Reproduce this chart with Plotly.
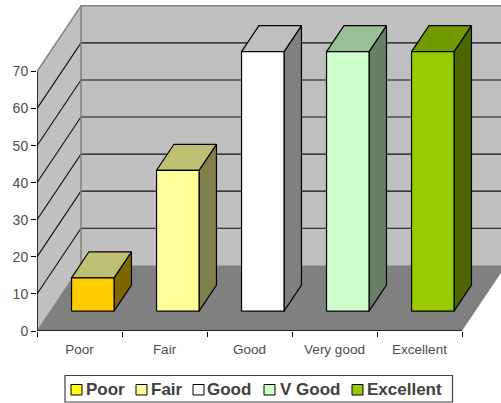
import plotly.graph_objects as go

# Data
categories = ["Poor", "Fair", "Good", "Very good", "Excellent"]
values = [9, 38, 70, 70, 70]
y_ticks = [0, 10, 20, 30, 40, 50, 60, 70]
legend_names = ["Poor", "Fair", "Good", "V Good", "Excellent"]
legend_colors = ["#FFFF00", "#FFFF99", "#FFFFFF", "#CCFFCC", "#99CC00"]
front_colors = ["#FFCC00", "#FFFF99", "#FFFFFF", "#CCFFCC", "#99CC00"]
top_colors = ["#BFBF73", "#BFBF73", "#BFBFBF", "#99BF99", "#739900"]
side_colors = ["#806600", "#80804D", "#808080", "#668066", "#4D6600"]

# Plot geometry (pixels)
W, H = 501, 403
L, B = 37, 331
PX_PER_CAT = 85.0
PX_PER_VAL = 3.707
DEPTH_DX, DEPTH_DY = 44.0, 65.7
BAR_W = 0.5
BAR_D0, BAR_D1 = 0.302, 0.698
N = len(categories)
Y_MAX = y_ticks[-1]


def proj(c, v, d):
    return c + d * DEPTH_DX / PX_PER_CAT, v + d * DEPTH_DY / PX_PER_VAL


def poly(points, fill, line=None, width=1):
    xs, ys = zip(*[proj(*p) for p in points])
    return go.Scatter(
        x=list(xs), y=list(ys), mode="lines" if line else "none",
        fill="toself" if fill else None, fillcolor=fill,
        line=dict(color=line or "rgba(0,0,0,0)", width=width),
        hoverinfo="skip", showlegend=False,
    )


fig = go.Figure()

# Walls and floor
fig.add_trace(poly([(0, 0, 1), (N, 0, 1), (N, Y_MAX, 1), (0, Y_MAX, 1), (0, 0, 1)], "#C0C0C0"))
fig.add_trace(poly([(0, 0, 0), (0, 0, 1), (0, Y_MAX, 1), (0, Y_MAX, 0), (0, 0, 0)], "#C0C0C0"))
fig.add_trace(poly([(0, 0, 0), (N, 0, 0), (N, 0, 1), (0, 0, 1), (0, 0, 0)], "#808080"))

# Gridlines
for t in y_ticks[1:-1]:
    fig.add_trace(poly([(0, t, 0), (0, t, 1), (N, t, 1)], None, "#111111", 1.1))

# Wall borders
fig.add_trace(poly([(0, 0, 1), (0, Y_MAX, 1), (N, Y_MAX, 1)], None, "#808080", 1.5))
fig.add_trace(poly([(0, Y_MAX, 0), (0, Y_MAX, 1)], None, "#808080", 1.5))
fig.add_trace(poly([(0, 0, 0), (0, 0, 1)], None, "#808080"))

# Axis lines
fig.add_trace(poly([(0, Y_MAX, 0), (0, 0, 0), (N, 0, 0)], None, "#000000", 1.5))

# Bars
for i, v in enumerate(values):
    c0 = i + (1 - BAR_W) / 2
    c1 = c0 + BAR_W
    d0, d1 = BAR_D0, BAR_D1
    fig.add_trace(poly([(c1, 0, d0), (c1, 0, d1), (c1, v, d1), (c1, v, d0), (c1, 0, d0)],
                       side_colors[i], "#000000", 1.2))
    fig.add_trace(poly([(c0, v, d0), (c1, v, d0), (c1, v, d1), (c0, v, d1), (c0, v, d0)],
                       top_colors[i], "#000000", 1.2))
    fig.add_trace(poly([(c0, 0, d0), (c1, 0, d0), (c1, v, d0), (c0, v, d0), (c0, 0, d0)],
                       front_colors[i], "#000000", 1.2))


def xp(px):
    return (px - L) / (W - L)


def yp(py):
    return (B - py) / B


# Legend (box, swatches, labels)
shapes = [dict(type="rect", xref="paper", yref="paper", x0=xp(65), x1=xp(452.5), y0=yp(375.5), y1=yp(402),
               line=dict(color="#404040", width=1.2), fillcolor="#FFFFFF")]
annotations = []
swatch_x = [71, 136, 193, 264, 352]
text_x = [86, 151, 207, 280, 367]
for name, col, sx, tx in zip(legend_names, legend_colors, swatch_x, text_x):
    shapes.append(dict(type="rect", xref="paper", yref="paper", x0=xp(sx), x1=xp(sx + 11),
                       y0=yp(384.5), y1=yp(395), line=dict(color="#000000", width=1), fillcolor=col))
    annotations.append(dict(text=f"<b>{name}</b>", xref="paper", yref="paper", x=xp(tx), y=yp(389.5),
                            xanchor="left", yanchor="middle", showarrow=False,
                            font=dict(family="Liberation Sans", size=17, color="#404040"),
                            borderpad=0, borderwidth=0))

fig.update_layout(
    width=W, height=H, autosize=False,
    margin=dict(l=L, r=0, t=0, b=H - B, pad=0),
    paper_bgcolor="#FFFFFF", plot_bgcolor="#FFFFFF",
    showlegend=False,
    shapes=shapes, annotations=annotations,
    font=dict(family="Liberation Sans", size=13, color="#4D4D4D"),
    xaxis=dict(range=[0, (W - L) / PX_PER_CAT], showgrid=False, zeroline=False, showline=False,
               tickmode="array", tickvals=[i + 0.5 for i in range(N)], ticktext=categories,
               ticks="outside", ticklen=6, tickcolor="rgba(0,0,0,0)",
               tickfont=dict(size=13.5),
               minor=dict(tickmode="array", tickvals=list(range(N + 1)), ticks="outside",
                          ticklen=5, tickcolor="#000000", tickwidth=1, showgrid=False)),
    yaxis=dict(range=[0, B / PX_PER_VAL], showgrid=False, zeroline=False, showline=False,
               tickmode="array", tickvals=y_ticks, ticks="outside", ticklen=5, tickcolor="#000000",
               tickwidth=1, tickfont=dict(size=14)),
)

fig.write_html("out.html", config={"displayModeBar": False},
               post_script="document.body.style.margin='0';document.body.style.overflow='hidden';")
